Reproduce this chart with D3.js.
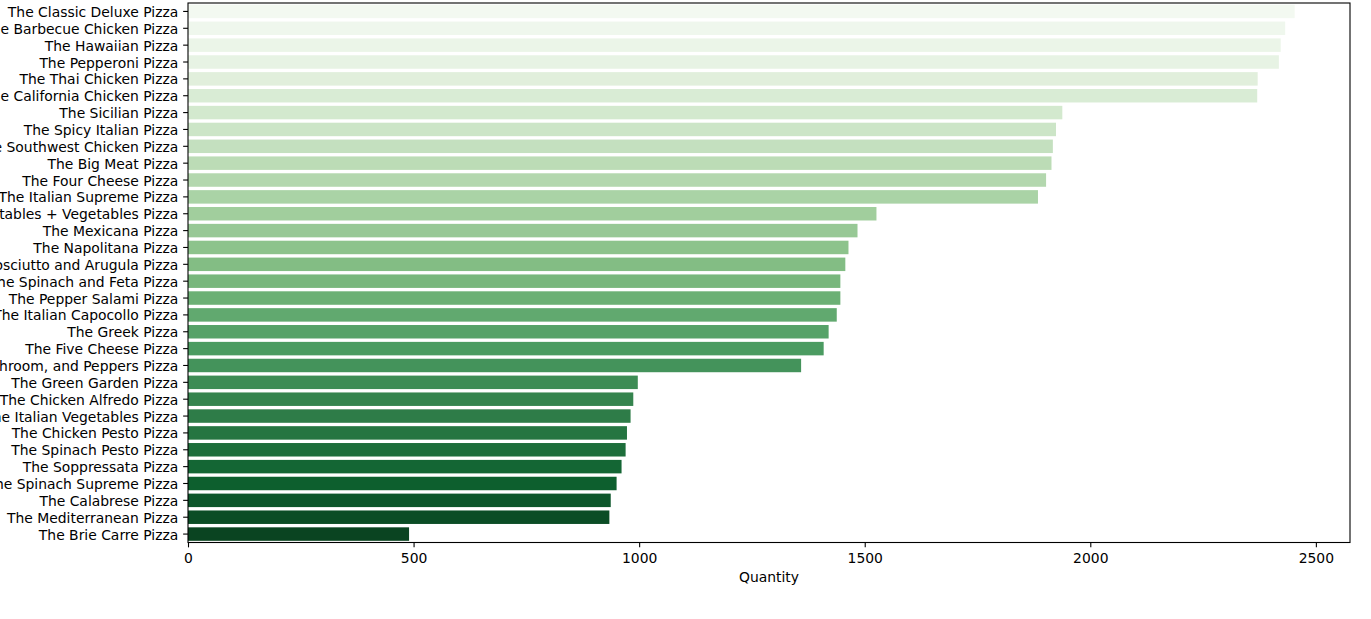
<!DOCTYPE html>
<html lang="en">
<head>
    <meta charset="UTF-8">
    <script src="https://d3js.org/d3.v7.min.js"></script>
    <title>Pizza quantity</title>
    <style>
        body {
            margin: 0;
            padding: 0;
            background-color: #fff;
        }
        text {
            font-family: "DejaVu Sans", sans-serif;
        }
    </style>
</head>
<body>
    <div id="chart"></div>
    <script>
        // pizza names, sorted by quantity sold
        let pizzas = [
            "The Classic Deluxe Pizza", "The Barbecue Chicken Pizza", "The Hawaiian Pizza",
            "The Pepperoni Pizza", "The Thai Chicken Pizza", "The California Chicken Pizza",
            "The Sicilian Pizza", "The Spicy Italian Pizza", "The Southwest Chicken Pizza",
            "The Big Meat Pizza", "The Four Cheese Pizza", "The Italian Supreme Pizza",
            "The Vegetables + Vegetables Pizza", "The Mexicana Pizza", "The Napolitana Pizza",
            "The Prosciutto and Arugula Pizza", "The Spinach and Feta Pizza", "The Pepper Salami Pizza",
            "The Italian Capocollo Pizza", "The Greek Pizza", "The Five Cheese Pizza",
            "The Pepperoni, Mushroom, and Peppers Pizza", "The Green Garden Pizza", "The Chicken Alfredo Pizza",
            "The Italian Vegetables Pizza", "The Chicken Pesto Pizza", "The Spinach Pesto Pizza",
            "The Soppressata Pizza", "The Spinach Supreme Pizza", "The Calabrese Pizza",
            "The Mediterranean Pizza", "The Brie Carre Pizza"
        ]
        let quantities = [
            2453, 2432, 2422, 2418, 2371, 2370,
            1938, 1924, 1917, 1914, 1902, 1884,
            1526, 1484, 1464, 1457, 1446, 1446,
            1438, 1420, 1409, 1359, 997, 987,
            981, 973, 970, 961, 950, 937,
            934, 490
        ]
        let xTicks = [0, 500, 1000, 1500, 2000, 2500]
        let xTitle = "Quantity"

        // Greens colour stops (matplotlib / colorbrewer)
        let greens = ["#f7fcf5", "#e5f5e0", "#c7e9c0", "#a1d99b", "#74c476",
                      "#41ab5d", "#238b45", "#006d2c", "#00441b"]

        let W = 1371, H = 619
        let box = { left: 188, right: 1350, top: 3, bottom: 542.5 }

        let svg = d3.select("#chart").append("svg")
            .attr("width", W)
            .attr("height", H)

        let xScale = d3.scaleLinear()
            .domain([0, d3.max(quantities) * 1.05])
            .range([box.left, box.right])

        let yScale = d3.scaleBand()
            .domain(pizzas)
            .range([box.top, box.bottom])
            .paddingInner(0.2)
            .paddingOuter(0.1)

        // linear colormap like matplotlib, sampled the seaborn way
        let cmap = d3.scaleLinear()
            .domain(d3.range(greens.length).map(i => i / (greens.length - 1)))
            .range(greens)
            .interpolate(d3.interpolateRgb)

        function barColor(i) {
            let t = (i + 1) / (pizzas.length + 1)
            let c = d3.hsl(cmap(t))
            c.s = c.s * 0.75
            return c.formatHex()
        }

        let data = pizzas.map((p, i) => ({ name: p, qty: quantities[i], idx: i }))

        svg.append("g").selectAll("rect").data(data)
            .enter().append("rect")
            .attr("x", xScale(0))
            .attr("y", d => yScale(d.name))
            .attr("width", d => xScale(d.qty) - xScale(0))
            .attr("height", yScale.bandwidth())
            .attr("fill", d => barColor(d.idx))

        let tk = 4.86
        let xAxis = d3.axisBottom(xScale).tickValues(xTicks).tickSize(tk).tickPadding(5.5).tickFormat(d => d)
        let gx = svg.append("g").attr("transform", "translate(0," + box.bottom + ")").call(xAxis)
        gx.select(".domain").remove()
        gx.selectAll("line").attr("stroke-width", 1.1)
        gx.selectAll("text").style("font-size", "13.9px").attr("fill", "#000")

        let yAxis = d3.axisLeft(yScale).tickSize(tk).tickPadding(4.9)
        let gy = svg.append("g").attr("transform", "translate(" + box.left + ",0)").call(yAxis)
        gy.select(".domain").remove()
        gy.selectAll("line").attr("stroke-width", 1.1)
        gy.selectAll("text").style("font-size", "13.9px").attr("fill", "#000").attr("dy", "0.4em")

        // frame (all four spines)
        svg.append("rect")
            .attr("x", box.left)
            .attr("y", box.top)
            .attr("width", box.right - box.left)
            .attr("height", box.bottom - box.top)
            .attr("fill", "none")
            .attr("stroke", "#000")
            .attr("stroke-width", 1.1)

        svg.append("text")
            .attr("x", (box.left + box.right) / 2)
            .attr("y", 582)
            .attr("text-anchor", "middle")
            .style("font-size", "13.9px")
            .text(xTitle)
    </script>
</body>
</html>
